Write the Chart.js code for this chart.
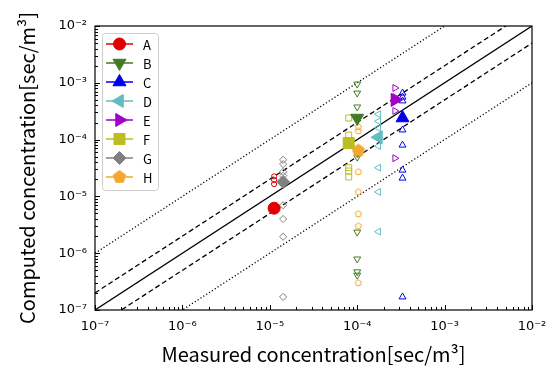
<!DOCTYPE html>
<html>
<head>
<meta charset="utf-8">
<script src="https://cdn.jsdelivr.net/npm/chart.js"></script>
<style>
  html, body { margin: 0; padding: 0; background: #fff; }
  #wrap { width: 558px; height: 374px; }
</style>
</head>
<body>
<div id="wrap"><canvas id="chart" width="558" height="374"></canvas></div>
<script>
// log10 decades shown on both axes
const decades = [-7, -6, -5, -4, -3, -2];
// reference lines y = k * x  (1:1, factor 2, factor 10)
const guideFactors = [1, 2, 0.5, 10, 0.1];
const guideRange = [1e-7, 1e-2];

const names = ['A', 'B', 'C', 'D', 'E', 'F', 'G', 'H'];
// measured value of each case (x)
const measured = [1.12e-5, 1.0e-4, 3.3e-4, 1.75e-4, 2.7e-4, 8.0e-5, 1.42e-5, 1.03e-4];
// mean computed value (large filled marker)
const meanComputed = [6.2e-6, 2.4e-4, 2.4e-4, 1.1e-4, 5.0e-4, 8.7e-5, 1.8e-5, 6.4e-5];
// individual computed values (small open markers)
const computedA = [2.25e-5, 1.95e-5, 1.65e-5];
const computedB = [9.5e-4, 6.6e-4, 3.75e-4, 4.9e-5, 2.35e-6, 7.9e-7, 4.7e-7, 4.1e-7];
const computedC = [6.6e-4, 5.6e-4, 4.8e-4, 1.48e-4, 8.0e-5, 2.9e-5, 2.1e-5, 1.7e-7];
const computedD = [2.8e-4, 2.1e-4, 1.6e-4, 7.7e-5, 3.2e-5, 1.2e-5, 2.4e-6];
const computedE = [8.1e-4, 5.6e-4, 3.2e-4, 4.7e-5];
const computedF = [2.4e-4, 1.2e-4, 3.2e-5, 2.8e-5, 2.2e-5];
const computedG = [4.4e-5, 3.7e-5, 2.7e-5, 2.3e-5, 7.0e-6, 4.0e-6, 1.95e-6, 1.7e-7];
const computedH = [1.67e-4, 1.42e-4, 2.7e-5, 1.2e-5, 4.9e-6, 3.0e-6, 3.0e-7];
const computed = [computedA, computedB, computedC, computedD, computedE, computedF, computedG, computedH];

// styles
const colors = ['#e00000', '#437a25', '#0000ee', '#62bcc2', '#a000c8', '#bcbd22', '#808080', '#f2a732'];
const markers = ['circle', 'triangle', 'triangle', 'triangle', 'triangle', 'rect', 'rectRot', 'pentagon'];
const rotations = [0, 180, 0, 270, 90, 0, 0, 0];
const bigRadius = { circle: 6, triangle: 7.5, rect: 7.8, rectRot: 6.5, pentagon: 6.5 };
const smallRadius = { circle: 2.6, triangle: 4, rect: 4.2, rectRot: 3.6, pentagon: 3.3 };

const SUP = { '-': '\u207B', '0': '\u2070', '1': '\u00B9', '2': '\u00B2', '3': '\u00B3',
  '4': '\u2074', '5': '\u2075', '6': '\u2076', '7': '\u2077', '8': '\u2078', '9': '\u2079' };
function powLabel(v) {
  const e = String(Math.round(Math.log10(v)));
  return '10' + e.split('').map(c => SUP[c]).join('');
}

// pentagon marker as a small canvas
function pentagon(r, fill, stroke) {
  const c = document.createElement('canvas');
  const s = Math.ceil(2 * r + 3);
  c.width = s; c.height = s;
  const g = c.getContext('2d');
  g.beginPath();
  for (let i = 0; i < 5; i++) {
    const a = -Math.PI / 2 + i * 2 * Math.PI / 5;
    const px = s / 2 + r * Math.cos(a), py = s / 2 + r * Math.sin(a);
    i ? g.lineTo(px, py) : g.moveTo(px, py);
  }
  g.closePath();
  if (fill) { g.fillStyle = fill; g.fill(); }
  g.lineWidth = 1; g.strokeStyle = stroke; g.stroke();
  return c;
}

function styleFor(i, big) {
  const m = markers[i];
  const r = big ? bigRadius[m] : smallRadius[m];
  if (m === 'pentagon') return { pointStyle: pentagon(r, big ? colors[i] : null, colors[i]), pointRadius: r };
  return { pointStyle: m, pointRadius: r };
}

const datasets = [];
names.forEach((n, i) => {
  const s = styleFor(i, true);
  datasets.push({
    label: n, order: 0,
    data: [{ x: measured[i], y: meanComputed[i] }],
    pointStyle: s.pointStyle, pointRadius: s.pointRadius, rotation: rotations[i],
    backgroundColor: colors[i], borderColor: colors[i], borderWidth: 1,
  });
});
names.forEach((n, i) => {
  const s = styleFor(i, false);
  datasets.push({
    label: n + ' cases', order: 1,
    data: computed[i].map(y => ({ x: measured[i], y })),
    pointStyle: s.pointStyle, pointRadius: s.pointRadius, rotation: rotations[i],
    backgroundColor: 'rgba(0,0,0,0)', borderColor: colors[i], borderWidth: 1,
  });
});
guideFactors.forEach((k) => {
  datasets.push({
    label: 'y=' + k + 'x', order: 2, showLine: true,
    data: guideRange.map(x => ({ x, y: k * x })),
    borderColor: '#000', borderWidth: 1.3,
    borderDash: k === 1 ? [] : (k === 2 || k === 0.5 ? [5, 3] : [1.2, 2.2]),
    pointRadius: 0,
  });
});

// inward major/minor ticks and the frame
const frame = {
  id: 'frame',
  afterDraw(chart) {
    const { ctx, chartArea: a, scales: { x, y } } = chart;
    ctx.save();
    ctx.strokeStyle = '#000';
    ctx.lineWidth = 1;
    decades.forEach((e, di) => {
      for (let m = 1; m <= 9; m++) {
        if (m > 1 && di === decades.length - 1) break;
        const v = m * Math.pow(10, e);
        const len = m === 1 ? 5 : 3;
        const px = Math.round(x.getPixelForValue(v)) + 0.5;
        const py = Math.round(y.getPixelForValue(v)) + 0.5;
        ctx.beginPath();
        ctx.moveTo(px, a.bottom); ctx.lineTo(px, a.bottom - len);
        ctx.moveTo(a.left, py); ctx.lineTo(a.left + len, py);
        ctx.stroke();
      }
    });
    ctx.lineWidth = 1.2;
    ctx.strokeRect(a.left, a.top, a.right - a.left, a.bottom - a.top);
    ctx.restore();
  }
};

// matplotlib-like legend: line through marker
const legendBox = {
  id: 'legendBox',
  afterDraw(chart) {
    const { ctx, chartArea: a } = chart;
    const x0 = a.left + 7, y0 = a.top + 7, w = 56, rowH = 19;
    const h = names.length * rowH + 5;
    ctx.save();
    ctx.fillStyle = 'rgba(255,255,255,0.85)';
    ctx.strokeStyle = '#d0d0d0';
    ctx.lineWidth = 1;
    ctx.beginPath();
    ctx.roundRect(x0 + 0.5, y0 + 0.5, w, h, 3);
    ctx.fill(); ctx.stroke();
    names.forEach((n, i) => {
      const cy = y0 + 11 + i * rowH;
      ctx.strokeStyle = colors[i];
      ctx.lineWidth = 1.5;
      ctx.beginPath();
      ctx.moveTo(x0 + 4, cy); ctx.lineTo(x0 + 31, cy);
      ctx.stroke();
      const s = styleFor(i, true);
      ctx.fillStyle = colors[i];
      ctx.lineWidth = 1;
      Chart.helpers.drawPoint(ctx, { pointStyle: s.pointStyle, rotation: rotations[i], radius: s.pointRadius, borderWidth: 1 }, x0 + 17.5, cy);
      ctx.fillStyle = '#000';
      ctx.font = '13px "Noto Sans CJK JP", "DejaVu Sans"';
      ctx.textBaseline = 'middle';
      ctx.fillText(n, x0 + 41, cy + 1);
    });
    ctx.restore();
  }
};

const tickFont = { family: '"DejaVu Sans"', size: 13 };
const titleFont = { family: '"Noto Sans CJK JP", "Noto Sans"', size: 20, lineHeight: 1 };

new Chart(document.getElementById('chart'), {
  type: 'scatter',
  data: { datasets },
  options: {
    responsive: false,
    animation: false,
    events: [],
    layout: { padding: { top: 26, right: 26, left: 0, bottom: 0 } },
    plugins: { legend: { display: false }, tooltip: { enabled: false } },
    scales: {
      x: {
        type: 'logarithmic', position: 'bottom',
        min: guideRange[0], max: guideRange[1],
        afterBuildTicks: s => { s.ticks = decades.map(e => ({ value: Math.pow(10, e) })); },
        afterFit: s => { s.height = 64; },
        grid: { display: false, drawTicks: false },
        border: { display: false },
        ticks: { callback: powLabel, font: tickFont, color: '#000', padding: 9, maxRotation: 0, autoSkip: false },
        title: { display: true, text: 'Measured concentration[sec/m\u00B3]', font: titleFont, color: '#000', padding: { bottom: 10 } },
      },
      y: {
        type: 'logarithmic', position: 'left',
        min: guideRange[0], max: guideRange[1],
        afterBuildTicks: s => { s.ticks = decades.map(e => ({ value: Math.pow(10, e) })); },
        afterFit: s => { s.width = 95; },
        grid: { display: false, drawTicks: false },
        border: { display: false },
        ticks: { callback: powLabel, font: tickFont, color: '#000', padding: 8, autoSkip: false },
        title: { display: true, text: 'Computed concentration[sec/m\u00B3]', font: titleFont, color: '#000', padding: { top: 17 } },
      },
    },
  },
  plugins: [frame, legendBox],
});
</script>
</body>
</html>
